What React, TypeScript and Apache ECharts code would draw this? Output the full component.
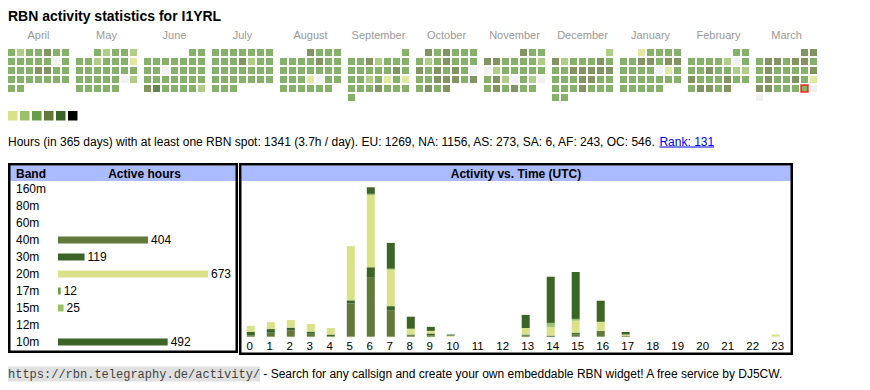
import React, { useEffect, useRef } from "react";
import * as echarts from "echarts";

const FONT = "'Liberation Sans', Arial, Helvetica, sans-serif";
const MONO = "'Liberation Mono', 'Courier New', monospace";

const TITLE = "RBN activity statistics for I1YRL";

// ---- calendar ----
const MONTHS = ["April", "May", "June", "July", "August", "September", "October", "November", "December", "January", "February", "March"];
const MONTH_YEARS = [2024, 2024, 2024, 2024, 2024, 2024, 2024, 2024, 2024, 2025, 2025, 2025];
const MONTH_NUMBERS = [3, 4, 5, 6, 7, 8, 9, 10, 11, 0, 1, 2];
const WEEKDAYS = ["Mo", "Tu", "We", "Th", "Fr", "Sa", "Su"];
const WEEK_ROWS = ["1", "2", "3", "4", "5", "6"];
const LEVEL_COLORS = ["#eeeeee", "#dae289", "#9cc069", "#669d45", "#637939", "#3b6427", "#000000"];
const TODAY_MONTH = 11;
const TODAY_DAY = 29;

const APRIL = [3,2,3,3,4,3,3, 3,3,3,3,3,0,3, 3,3,3,4,4,3,3, 3,3,3,3,3,3,3, 3,3];
const MAY = [3,2,3,3,2, 3,3,2,3,3,3,1, 3,3,3,3,3,3,3, 3,3,3,3,3,0,2, 3,3,3,3,3];
const JUNE = [3,3, 3,3,3,3,3,3,3, 3,3,0,3,3,3,3, 3,3,3,3,3,3,3, 4,5,3,3,3,3,2];
const JULY = [3,3,3,3,3,3,3, 3,3,3,4,2,3,3, 3,3,3,3,3,3,3, 3,3,3,3,3,3,3, 3,3,3];
const AUGUST = [4,3,3,3, 3,3,3,3,4,3,3, 3,3,3,3,3,3,3, 3,3,3,1,0,3,3, 3,3,3,3,3,3];
const SEPTEMBER = [3, 3,3,4,2,3,3,3, 3,3,3,3,3,4,3, 3,3,2,3,1,3,1, 3,3,3,4,3,3,3, 3];
const OCTOBER = [4,3,4,3,3,3, 3,2,3,4,3,3,3, 4,3,4,3,4,3,0, 3,3,4,4,4,3,4, 3,4,3,4];
const NOVEMBER = [4,3,3, 4,4,3,3,3,3,2, 0,2,3,3,3,3,3, 3,4,2,0,3,2,0, 3,4,3,4,3,3];
const DECEMBER = [2, 4,2,3,3,3,4,3, 3,3,4,4,4,4,4, 3,3,3,4,4,3,3, 3,3,3,4,3,3,3, 3,3];
const JANUARY = [1,3,3,3,3, 3,3,4,4,3,4,4, 3,3,3,3,0,1,3, 3,3,3,3,3,3,3, 3,3,3,3,3];
const FEBRUARY = [3,3, 3,3,3,3,2,0,3, 3,3,4,3,3,2,2, 4,3,3,3,4,3,3, 3,4,4,3,4];
const MARCH = [4,4, 3,4,4,3,4,4,3, 3,4,3,3,3,3,4, 3,4,3,3,4,3,1, 4,4,3,3,3,3,0, 0];
const DAY_LEVELS = [APRIL, MAY, JUNE, JULY, AUGUST, SEPTEMBER, OCTOBER, NOVEMBER, DECEMBER, JANUARY, FEBRUARY, MARCH];

// ---- stats line ----
const DAYS = 365;
const TOTAL_HOURS = 1341;
const PER_DAY = 3.7;
const CONTINENTS = ["EU", "NA", "AS", "SA", "AF", "OC"];
const CONTINENT_HOURS = [1269, 1156, 273, 6, 243, 546];
const RANK = 131;

// ---- bands ----
const BANDS = ["160m", "80m", "60m", "40m", "30m", "20m", "17m", "15m", "12m", "10m"];
const BAND_HOURS = [0, 0, 0, 404, 119, 673, 12, 25, 0, 492];
const BAND_COLORS = ["#888888", "#888888", "#888888", "#637939", "#3b6427", "#dae289", "#669d45", "#9cc069", "#888888", "#3b6427"];

// ---- activity vs time ----
const HOURS = ["0","1","2","3","4","5","6","7","8","9","10","11","12","13","14","15","16","17","18","19","20","21","22","23"];
const H_40M = [3, 11, 17, 8, 2, 92, 164, 73, 3, 3, 0, 0, 0, 3, 0, 6, 16, 3, 0, 0, 0, 0, 0, 0];
const H_30M = [10, 10, 8, 6, 4, 8, 27, 11, 3, 6, 0, 0, 0, 3, 3, 5, 0, 0, 0, 0, 0, 0, 0, 0];
const H_20M = [17, 19, 21, 21, 18, 149, 198, 100, 16, 7, 3, 0, 0, 18, 25, 33, 25, 3, 0, 0, 0, 0, 0, 6];
const H_17M = [0, 0, 0, 0, 0, 0, 0, 0, 0, 0, 0, 0, 0, 0, 3, 0, 0, 0, 0, 0, 0, 0, 0, 0];
const H_15M = [0, 0, 0, 0, 0, 0, 4, 3, 0, 0, 0, 0, 0, 0, 7, 5, 0, 0, 0, 0, 0, 0, 0, 0];
const H_10M = [0, 0, 0, 0, 0, 0, 18, 71, 33, 11, 3, 0, 0, 36, 127, 129, 58, 7, 0, 0, 0, 0, 0, 0];
const HOURLY_NAMES = ["40m", "30m", "20m", "17m", "15m", "10m"];
const HOURLY_DATA = [H_40M, H_30M, H_20M, H_17M, H_15M, H_10M];
const HOURLY_COLORS = ["#637939", "#3b6427", "#dae289", "#669d45", "#9cc069", "#3b6427"];

const FOOTER_URL = "https://rbn.telegraphy.de/activity/";
const FOOTER_TEXT = " - Search for any callsign and create your own embeddable RBN widget! A free service by DJ5CW.";

function measure(text: string, font: string): number {
  const ctx = document.createElement("canvas").getContext("2d");
  if (!ctx) return text.length * 6;
  ctx.font = font;
  return ctx.measureText(text).width;
}

function txt(x: number, y: number, text: string, font: string, fill = "#000", align = "left", z = 5): any {
  return {
    type: "text",
    x,
    y,
    z,
    silent: true,
    style: { text, font, fill, align, verticalAlign: "middle", textAlign: align, textVerticalAlign: "middle" },
  };
}

export default function App() {
  const ref = useRef<HTMLDivElement>(null);

  useEffect(() => {
    if (!ref.current) return;
    const chart = echarts.init(ref.current, undefined, { renderer: "svg" });

    const grids: any[] = [];
    const xAxes: any[] = [];
    const yAxes: any[] = [];
    const series: any[] = [];

    // calendar months
    MONTHS.forEach((m, i) => {
      grids.push({ left: 7 + 68 * i, top: 48, width: 63, height: 54 });
      xAxes.push({
        type: "category",
        gridIndex: i,
        data: WEEKDAYS,
        position: "top",
        name: m,
        nameLocation: "middle",
        nameGap: 13,
        nameTextStyle: { color: "#999999", fontSize: 11, fontFamily: FONT, verticalAlign: "middle" },
        axisLine: { show: false },
        axisTick: { show: false },
        axisLabel: { show: false },
        splitLine: { show: false },
      });
      yAxes.push({ type: "category", gridIndex: i, data: WEEK_ROWS, inverse: true, show: false });
      const first = new Date(Date.UTC(MONTH_YEARS[i], MONTH_NUMBERS[i], 1)).getUTCDay();
      const offset = (first + 6) % 7;
      const data = DAY_LEVELS[i].map((lvl, d) => {
        const pos = offset + d;
        const isToday = i === TODAY_MONTH && d + 1 === TODAY_DAY;
        return {
          value: [pos % 7, Math.floor(pos / 7), lvl],
          itemStyle: isToday
            ? { color: LEVEL_COLORS[lvl], borderColor: "#ff0000", borderWidth: 1.5 }
            : { color: LEVEL_COLORS[lvl] },
        };
      });
      series.push({
        type: "scatter",
        xAxisIndex: i,
        yAxisIndex: i,
        symbol: "rect",
        symbolSize: 7,
        silent: true,
        data,
      });
    });

    // band bars (grid 12)
    grids.push({ left: 58, top: 180.5, width: 150, height: 170 });
    xAxes.push({ type: "value", gridIndex: 12, min: 0, max: "dataMax", show: false });
    yAxes.push({
      type: "category",
      gridIndex: 12,
      data: BANDS,
      inverse: true,
      axisLine: { show: false },
      axisTick: { show: false },
      axisLabel: { align: "left", margin: 42, fontSize: 12, color: "#000", fontFamily: FONT },
    });
    series.push({
      type: "bar",
      xAxisIndex: 12,
      yAxisIndex: 12,
      barWidth: 7,
      silent: true,
      data: BAND_HOURS.map((v, i) => ({ value: v, itemStyle: { color: BAND_COLORS[i] } })),
      label: {
        show: true,
        position: "right",
        distance: 3,
        fontSize: 12,
        color: "#000",
        fontFamily: FONT,
        formatter: (p: any) => (p.value > 0 ? String(p.value) : ""),
      },
    });

    // hourly (grid 13: 0-9, grid 14: 10-23)
    const parts = [
      { gi: 13, left: 240.8, width: 200, from: 0, to: 10, pad: [0, 2, 0, 0] },
      { gi: 14, left: 438.2, width: 350, from: 10, to: 24, pad: [0, 0, 0, 4] },
    ];
    parts.forEach((p) => {
      grids.push({ left: p.left, top: 184, width: p.width, height: 152.7 });
      xAxes.push({
        type: "category",
        gridIndex: p.gi,
        data: HOURS.slice(p.from, p.to),
        axisLine: { show: false },
        axisTick: { show: false },
        axisLabel: { interval: 0, fontSize: 11.5, color: "#000", margin: 3, fontFamily: FONT, padding: p.pad },
      });
      yAxes.push({ type: "value", gridIndex: p.gi, min: 0, max: 420, show: false });
      HOURLY_DATA.forEach((arr, b) => {
        series.push({
          type: "bar",
          name: HOURLY_NAMES[b],
          xAxisIndex: p.gi,
          yAxisIndex: p.gi,
          stack: "s" + p.gi,
          barWidth: 8,
          silent: true,
          itemStyle: { color: HOURLY_COLORS[b] },
          data: arr.slice(p.from, p.to),
        });
      });
    });

    // graphics
    const statsText =
      `Hours (in ${DAYS} days) with at least one RBN spot: ${TOTAL_HOURS} (${PER_DAY}h / day). ` +
      CONTINENTS.map((c, i) => `${c}: ${CONTINENT_HOURS[i]}`).join(", ") +
      ". ";
    const linkText = `Rank: ${RANK}`;
    const statsFont = `12px ${FONT}`;
    const statsW = measure(statsText, statsFont);
    const linkW = measure(linkText, statsFont);

    const elements: any[] = [
      txt(8, 16, TITLE, `bold 14px ${FONT}`),
      ...LEVEL_COLORS.slice(1).map((c, i) => ({
        type: "rect",
        silent: true,
        shape: { x: 8 + 12 * i, y: 111, width: 9.5, height: 9.5 },
        style: { fill: c },
      })),
      txt(8, 142, statsText, statsFont),
      txt(8 + statsW, 142, linkText, statsFont, "#0000ee"),
      {
        type: "line",
        silent: true,
        shape: { x1: 8 + statsW, y1: 147, x2: 8 + statsW + linkW, y2: 147 },
        style: { stroke: "#0000ee", lineWidth: 1 },
      },
      // headers
      { type: "rect", silent: true, z: 0, shape: { x: 10, y: 165.5, width: 226.5, height: 15.5 }, style: { fill: "#aabbff" } },
      { type: "rect", silent: true, z: 0, shape: { x: 241.5, y: 165.5, width: 549.5, height: 15.5 }, style: { fill: "#aabbff" } },
      txt(16, 173.5, "Band", `bold 12px ${FONT}`),
      txt(144.5, 173.5, "Active hours", `bold 12px ${FONT}`, "#000", "center"),
      txt(516, 173.5, "Activity vs. Time (UTC)", `bold 12px ${FONT}`, "#000", "center"),
      // boxes
      { type: "rect", silent: true, z: 10, shape: { x: 9.25, y: 164.25, width: 227.5, height: 187.5 }, style: { fill: "none", stroke: "#000", lineWidth: 2.5 } },
      { type: "rect", silent: true, z: 10, shape: { x: 240.25, y: 164.25, width: 551.5, height: 189.5 }, style: { fill: "none", stroke: "#000", lineWidth: 2.5 } },
      // footer
      {
        type: "text",
        x: 8,
        y: 374,
        silent: true,
        style: {
          text: `{u|${FOOTER_URL}}{t|${FOOTER_TEXT}}`,
          verticalAlign: "middle",
          textVerticalAlign: "middle",
          rich: {
            u: { fontFamily: MONO, fontSize: 12, fill: "#444444", backgroundColor: "#e0e0e0", padding: [2, 0, 1, 0] },
            t: { fontFamily: FONT, fontSize: 12, fill: "#000" },
          },
        },
      },
    ];

    chart.setOption({
      animation: false,
      backgroundColor: "#ffffff",
      textStyle: { fontFamily: FONT },
      grid: grids,
      xAxis: xAxes,
      yAxis: yAxes,
      series,
      graphic: { elements },
    });

    return () => chart.dispose();
  }, []);

  return <div ref={ref} style={{ position: "absolute", left: 0, top: 0, width: 870, height: 390 }} />;
}
